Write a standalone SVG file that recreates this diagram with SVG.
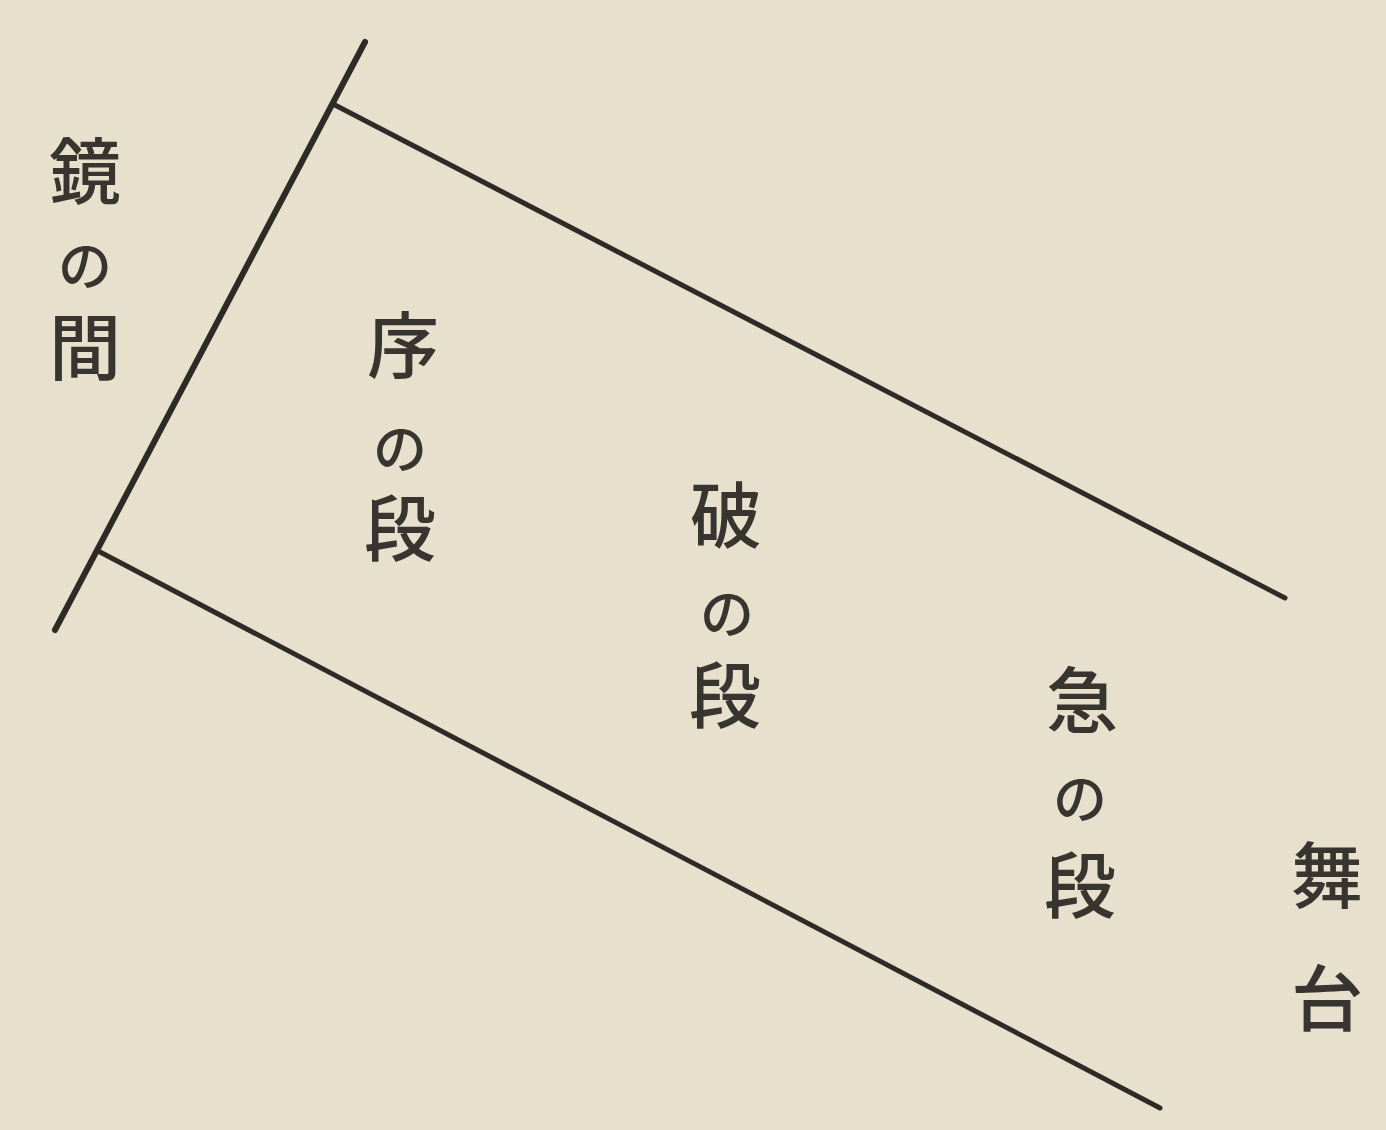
<svg xmlns="http://www.w3.org/2000/svg" width="1386" height="1130" viewBox="0 0 1386 1130">
<style>
.ln{stroke:#2e2a26;stroke-width:5;stroke-linecap:round;fill:none}
.t{font-family:"Noto Sans CJK JP","Noto Sans CJK SC",sans-serif;font-size:72px;font-weight:500;fill:#38342f;text-anchor:middle;dominant-baseline:central}
.n{font-size:54px}
</style>
<rect width="1386" height="1130" fill="#e7e0cd"/>
<g id="connectors">
<line class="ln" x1="365" y1="42" x2="55" y2="630" style="stroke-width:6"/>
<line class="ln" x1="333" y1="104" x2="1285" y2="598"/>
<line class="ln" x1="100" y1="552" x2="1160" y2="1108"/>
</g>
<g id="kagami">
<text class="t" x="85" y="166">鏡</text>
<text class="t n" x="85" y="262">の</text>
<text class="t" x="85" y="342">間</text>
</g>
<g id="jo">
<text class="t" x="403" y="340">序</text>
<text class="t n" x="400" y="445">の</text>
<text class="t" x="400" y="523">段</text>
</g>
<g id="ha">
<text class="t" x="726" y="510">破</text>
<text class="t n" x="727" y="610">の</text>
<text class="t" x="725" y="690">段</text>
</g>
<g id="kyu">
<text class="t" x="1082" y="695">急</text>
<text class="t n" x="1080" y="795">の</text>
<text class="t" x="1080" y="880">段</text>
</g>
<g id="butai">
<text class="t" x="1327" y="870">舞</text>
<text class="t" x="1327" y="993">台</text>
</g>
</svg>
